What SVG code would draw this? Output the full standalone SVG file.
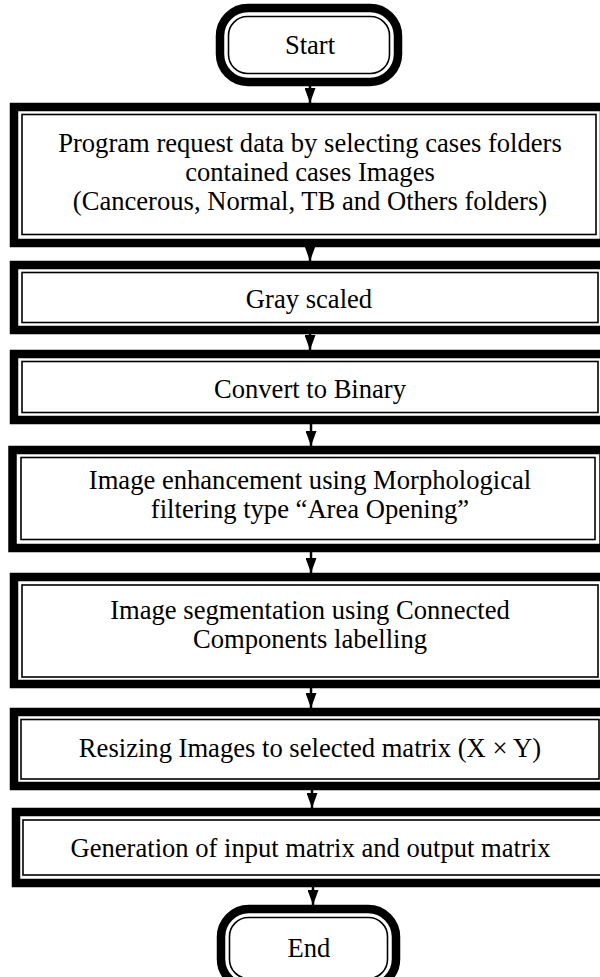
<svg xmlns="http://www.w3.org/2000/svg" width="600" height="977" viewBox="0 0 600 977">
  <style>
    .band { fill: none; stroke: #000; stroke-width: 8.5; }
    .rule { fill: none; stroke: #000; stroke-width: 1.6; }
    .label { font-family: "Liberation Serif", "Times New Roman", serif; font-size: 26.6px; fill: #000; text-anchor: middle; }
    .wire { stroke: #000; stroke-width: 2.5; fill: none; marker-end: url(#head); }
  </style>
  <defs>
    <marker id="head" viewBox="0 0 15 11" refX="15" refY="5.5" markerWidth="15" markerHeight="11" markerUnits="userSpaceOnUse" orient="auto">
      <path d="M0,0 L15,5.5 L0,11 Z" fill="#000"/>
    </marker>
  </defs>
  <rect width="600" height="977" fill="#fff"/>

  <!-- terminal: Start -->
  <g id="start">
    <rect class="band" x="220" y="8" width="178" height="74" rx="28"/>
    <rect class="rule" x="228.5" y="16.5" width="161" height="57" rx="19"/>
    <text class="label" x="310" y="54">Start</text>
  </g>

  <!-- process steps: thick outer band with a thin inner rule -->
  <g id="step1">
    <rect class="band" x="14" y="107" width="590" height="136"/>
    <rect class="rule" x="22" y="114.5" width="574" height="120"/>
    <text class="label" x="310" y="152">Program request data by selecting cases folders</text>
    <text class="label" x="310" y="181">contained cases Images</text>
    <text class="label" x="310" y="210">(Cancerous, Normal, TB and Others folders)</text>
  </g>
  <g id="step2">
    <rect class="band" x="14" y="265" width="592" height="65"/>
    <rect class="rule" x="22" y="272.5" width="576" height="50"/>
    <text class="label" x="309" y="308">Gray scaled</text>
  </g>
  <g id="step3">
    <rect class="band" x="14" y="354" width="592" height="66"/>
    <rect class="rule" x="22" y="361.5" width="576" height="51"/>
    <text class="label" x="310" y="398">Convert to Binary</text>
  </g>
  <g id="step4">
    <rect class="band" x="12.5" y="450" width="591" height="98"/>
    <rect class="rule" x="21" y="457.5" width="574" height="82"/>
    <text class="label" x="310" y="489">Image enhancement using Morphological</text>
    <text class="label" x="310" y="518">filtering type “Area Opening”</text>
  </g>
  <g id="step5">
    <rect class="band" x="14" y="577" width="592" height="107"/>
    <rect class="rule" x="22" y="585" width="576" height="92"/>
    <text class="label" x="310" y="619">Image segmentation using Connected</text>
    <text class="label" x="310" y="648">Components labelling</text>
  </g>
  <g id="step6">
    <rect class="band" x="14" y="712" width="592" height="74"/>
    <rect class="rule" x="21" y="719.5" width="578" height="59.5"/>
    <text class="label" x="310" y="757">Resizing Images to selected matrix (X × Y)</text>
  </g>
  <g id="step7">
    <rect class="band" x="16" y="812" width="592" height="71"/>
    <rect class="rule" x="23" y="820" width="578" height="55"/>
    <text class="label" x="310.5" y="857">Generation of input matrix and output matrix</text>
  </g>

  <!-- terminal: End -->
  <g id="end">
    <rect class="band" x="221" y="909" width="175" height="78" rx="28"/>
    <rect class="rule" x="229.5" y="917.5" width="158" height="61" rx="19"/>
    <text class="label" x="309" y="957">End</text>
  </g>

  <!-- connectors -->
  <g id="connectors">
    <path class="wire" d="M310,86 V103"/>
    <path class="wire" d="M310,247 V261"/>
    <path class="wire" d="M310,334 V350"/>
    <path class="wire" d="M311,424 V446"/>
    <path class="wire" d="M311,552 V573"/>
    <path class="wire" d="M311,688 V708"/>
    <path class="wire" d="M312,790 V808"/>
    <path class="wire" d="M313,887 V905"/>
  </g>
</svg>
